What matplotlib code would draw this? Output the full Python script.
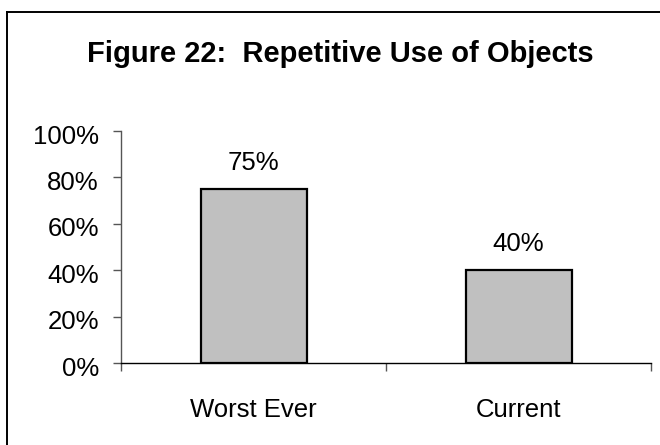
import matplotlib
matplotlib.use("Agg")
import matplotlib.pyplot as plt
from matplotlib.lines import Line2D
from matplotlib.transforms import ScaledTranslation

categories = ["Worst Ever", "Current"]
values = [75, 40]
value_labels = ["75%", "40%"]
yticks = [0, 20, 40, 60, 80, 100]
ytick_labels = ["0%", "20%", "40%", "60%", "80%", "100%"]
title = "Figure 22:  Repetitive Use of Objects"

plt.rcParams['font.family'] = ['Liberation Sans', 'DejaVu Sans']

W, H = 660, 445
fig = plt.figure(figsize=(W / 100, H / 100), dpi=100)
fig.patch.set_facecolor('white')

ax = fig.add_axes([121 / W, 1 - 363 / H, (651 - 121) / W, (363 - 131) / H])

x = list(range(len(categories)))
ax.bar(x, values, width=0.4, color='#C0C0C0', edgecolor='black', linewidth=1.6, zorder=3)

for xi, v, lab in zip(x, values, value_labels):
    ax.annotate(lab, (xi, v), xytext=(0, 10), textcoords='offset points',
                ha='center', va='bottom', fontsize=18.5)

ax.set_xlim(-0.5, len(categories) - 0.5)
ax.set_ylim(0, 100)

ax.set_yticks(yticks)
ax.set_yticklabels(ytick_labels, fontsize=18.5)
ax.tick_params(axis='y', direction='out', length=6, width=1, color='#555555', pad=10)
shift = ScaledTranslation(0, -3 / 100, fig.dpi_scale_trans)
for lbl in ax.get_yticklabels():
    lbl.set_transform(lbl.get_transform() + shift)

# boundary ticks (major) and category labels (minor)
ax.set_xticks([i - 0.5 for i in range(len(categories) + 1)])
ax.set_xticklabels([''] * (len(categories) + 1))
ax.set_xticks(x, minor=True)
ax.set_xticklabels(categories, minor=True, fontsize=18.5)
ax.tick_params(axis='x', which='major', direction='out', length=6, width=1, color='#555555')
ax.tick_params(axis='x', which='minor', length=0, pad=25.5)

for s in ['top', 'right']:
    ax.spines[s].set_visible(False)
ax.spines['left'].set_color('#555555')
ax.spines['left'].set_linewidth(1)
ax.spines['bottom'].set_color('black')
ax.spines['bottom'].set_linewidth(1)

fig.text(340 / W, 1 - 62 / H, title, ha='center', va='baseline',
         fontsize=21, fontweight='bold')

# outer frame (only top and left visible within the image)
fig.add_artist(Line2D([7 / W, 1.0], [1 - 12 / H, 1 - 12 / H], transform=fig.transFigure,
                      color='black', linewidth=1.4))
fig.add_artist(Line2D([7 / W, 7 / W], [0.0, 1 - 12 / H], transform=fig.transFigure,
                      color='black', linewidth=1.4))

fig.savefig('out.png', dpi=100, facecolor='white')
